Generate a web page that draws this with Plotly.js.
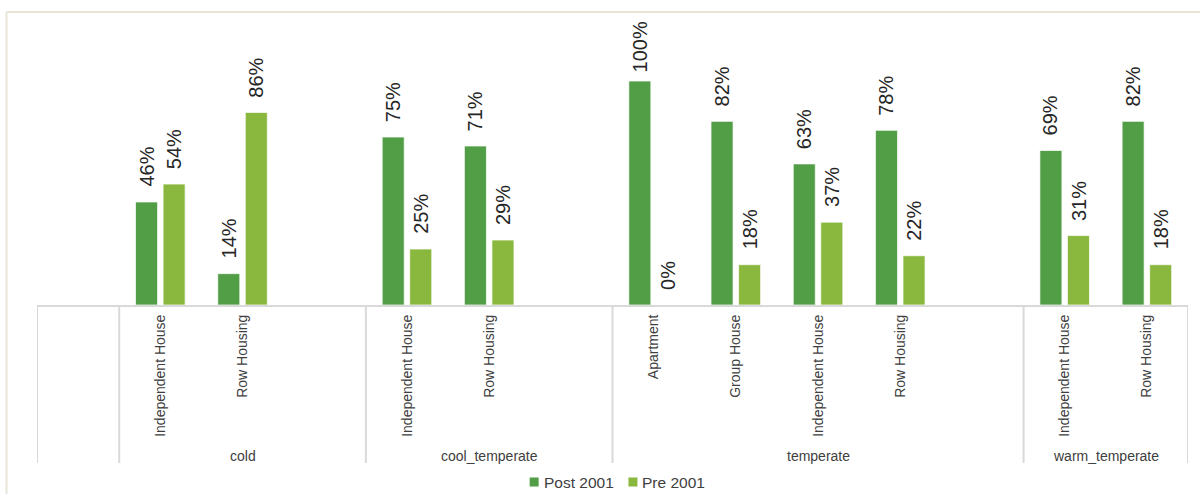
<!DOCTYPE html>
<html>
<head>
<meta charset="utf-8">
<script src="https://cdn.plot.ly/plotly-3.0.1.min.js"></script>
<style>
  html, body { margin: 0; padding: 0; background: #ffffff; }
  #chart { width: 1200px; height: 494px; }
</style>
</head>
<body>
<div id="chart"></div>
<script>
// Share of dwellings built before / after 2001, by climate zone and housing type
const zones = ['cold', 'cold', 'cool_temperate', 'cool_temperate', 'temperate', 'temperate', 'temperate', 'temperate', 'warm_temperate', 'warm_temperate'];
const housingTypes = ['Independent House', 'Row Housing', 'Independent House', 'Row Housing', 'Apartment', 'Group House', 'Independent House', 'Row Housing', 'Independent House', 'Row Housing'];
const post2001 = [46, 14, 75, 71, 100, 82, 63, 78, 69, 82];
const pre2001 = [54, 86, 25, 29, 0, 18, 37, 22, 31, 18];
const seriesNames = ['Post 2001', 'Pre 2001'];

const colors = ['#519E46', '#8AB83F'];
const fontFamily = 'Liberation Sans, Arial, sans-serif';
const labelFont = { family: fontFamily, size: 20, color: '#262626' };
const axisFont = { family: fontFamily, size: 14, color: '#404040' };
const legendFont = { family: fontFamily, size: 15.5, color: '#404040' };
const gridColor = '#d9d9d9';

const W = 1200, H = 494, M = { l: 37, r: 12, t: 15, b: 189 };
const plotW = W - M.l - M.r, plotH = H - M.t - M.b;
const yMax = 129.5;
const px2paperX = p => (p - M.l) / plotW;
const px2paperY = p => (H - M.b - p) / plotH;

// Slot positions on the category axis: one empty slot in front, and an empty
// slot closing every climate zone except the last.
const xPos = [];
let slot = 1;
zones.forEach((z, i) => {
  if (i > 0 && z !== zones[i - 1]) slot++;
  xPos.push(slot);
  slot++;
});

const zoneList = [...new Set(zones)];
const firstX = zoneList.map(z => xPos[zones.indexOf(z)]);
const lastX = zoneList.map(z => xPos[zones.lastIndexOf(z)]);
const bounds = [firstX[0] - 1.5].concat(firstX.map(x => x - 0.5), [lastX[lastX.length - 1] + 0.5]);

const bargap = 0.33, bargroupgap = 0.2;
const half = (1 - bargap) / 4; // centre offset of each bar in a pair

const traces = [post2001, pre2001].map((vals, k) => ({
  type: 'bar',
  name: seriesNames[k],
  x: xPos,
  y: vals,
  marker: { color: colors[k], line: { color: 'rgba(255,255,255,0.7)', width: 1 } },
  hoverinfo: 'x+y+name'
}));

// rough Arial advance widths, used for laying out labels
const glyphW = { '%': 0.889, ' ': 0.278, P: 0.667, o: 0.556, s: 0.5, t: 0.278, r: 0.333, e: 0.556 };
function textWidth(t, size) {
  let w = 0;
  for (const c of t) w += (glyphW[c] !== undefined ? glyphW[c] : 0.556) * size;
  return w;
}

// Value labels sit a little above each bar, but are pulled down when they
// would run past the top of the chart.
const labelGap = 13, topLimit = 8;

const annotations = [];
[post2001, pre2001].forEach((vals, k) => {
  vals.forEach((v, i) => {
    const text = v + '%';
    const barTop = plotH * (1 - v / yMax);          // px below plot top
    const room = barTop - topLimit - textWidth(text, labelFont.size);
    annotations.push({
      xref: 'x', yref: 'y',
      x: xPos[i] + (k === 0 ? -half : half),
      y: v,
      text: text,
      textangle: -90,
      showarrow: false,
      xanchor: 'center', yanchor: 'bottom',
      yshift: Math.min(labelGap, room),
      font: labelFont
    });
  });
});

// zone names under the housing-type labels
zoneList.forEach((z, j) => {
  annotations.push({
    xref: 'x', yref: 'paper',
    x: (bounds[j + 1] + bounds[j + 2]) / 2,
    y: -0.52,
    text: z,
    showarrow: false,
    xanchor: 'center', yanchor: 'middle',
    font: axisFont
  });
});

const shapes = bounds.map(b => ({
  type: 'line', xref: 'x', yref: 'paper',
  x0: b, x1: b, y0: 0, y1: -0.545,
  line: { color: gridColor, width: 2 },
  layer: 'below'
}));

// outer chart frame (top and left edges)
shapes.push({
  type: 'line', xref: 'paper', yref: 'paper',
  x0: px2paperX(6.5), x1: px2paperX(W + 10), y0: px2paperY(12), y1: px2paperY(12),
  line: { color: '#e8e5d8', width: 2 }
});
shapes.push({
  type: 'line', xref: 'paper', yref: 'paper',
  x0: px2paperX(6.5), x1: px2paperX(6.5), y0: px2paperY(12), y1: px2paperY(H + 10),
  line: { color: '#e8e5d8', width: 2 }
});

// legend: small square key + series name, entries centred under the chart
const keySize = 9, keyGap = 3, entryGap = 17, legendCentre = 616.5, legendY = 482;
const entryW = seriesNames.map(n => keySize + keyGap + textWidth(n, legendFont.size));
let lx = legendCentre - (entryW.reduce((a, b) => a + b, 0) + entryGap * (seriesNames.length - 1)) / 2;
seriesNames.forEach((n, k) => {
  shapes.push({
    type: 'rect', xref: 'paper', yref: 'paper',
    x0: px2paperX(lx), x1: px2paperX(lx + keySize),
    y0: px2paperY(legendY - keySize / 2), y1: px2paperY(legendY + keySize / 2),
    fillcolor: colors[k], line: { width: 0 }
  });
  annotations.push({
    xref: 'paper', yref: 'paper',
    x: px2paperX(lx + keySize + keyGap), y: px2paperY(legendY),
    text: n, showarrow: false,
    xanchor: 'left', yanchor: 'middle',
    font: legendFont
  });
  lx += entryW[k] + entryGap;
});

const layout = {
  width: W, height: H,
  margin: { l: M.l, r: M.r, t: M.t, b: M.b, pad: 0, autoexpand: false },
  paper_bgcolor: '#ffffff', plot_bgcolor: '#ffffff',
  barmode: 'group', bargap: bargap, bargroupgap: bargroupgap,
  showlegend: false,
  xaxis: {
    range: [bounds[0], bounds[bounds.length - 1]],
    tickmode: 'array', tickvals: xPos, ticktext: housingTypes,
    tickangle: -90, tickfont: axisFont,
    ticks: '', ticklabelstandoff: 2, automargin: false,
    showline: true, linecolor: gridColor, linewidth: 2,
    showgrid: false, zeroline: false, fixedrange: true
  },
  yaxis: {
    range: [0, yMax], automargin: false,
    visible: false, showgrid: false, zeroline: false, fixedrange: true
  },
  annotations: annotations,
  shapes: shapes
};

Plotly.newPlot('chart', traces, layout, { displayModeBar: false, staticPlot: true });
</script>
</body>
</html>
